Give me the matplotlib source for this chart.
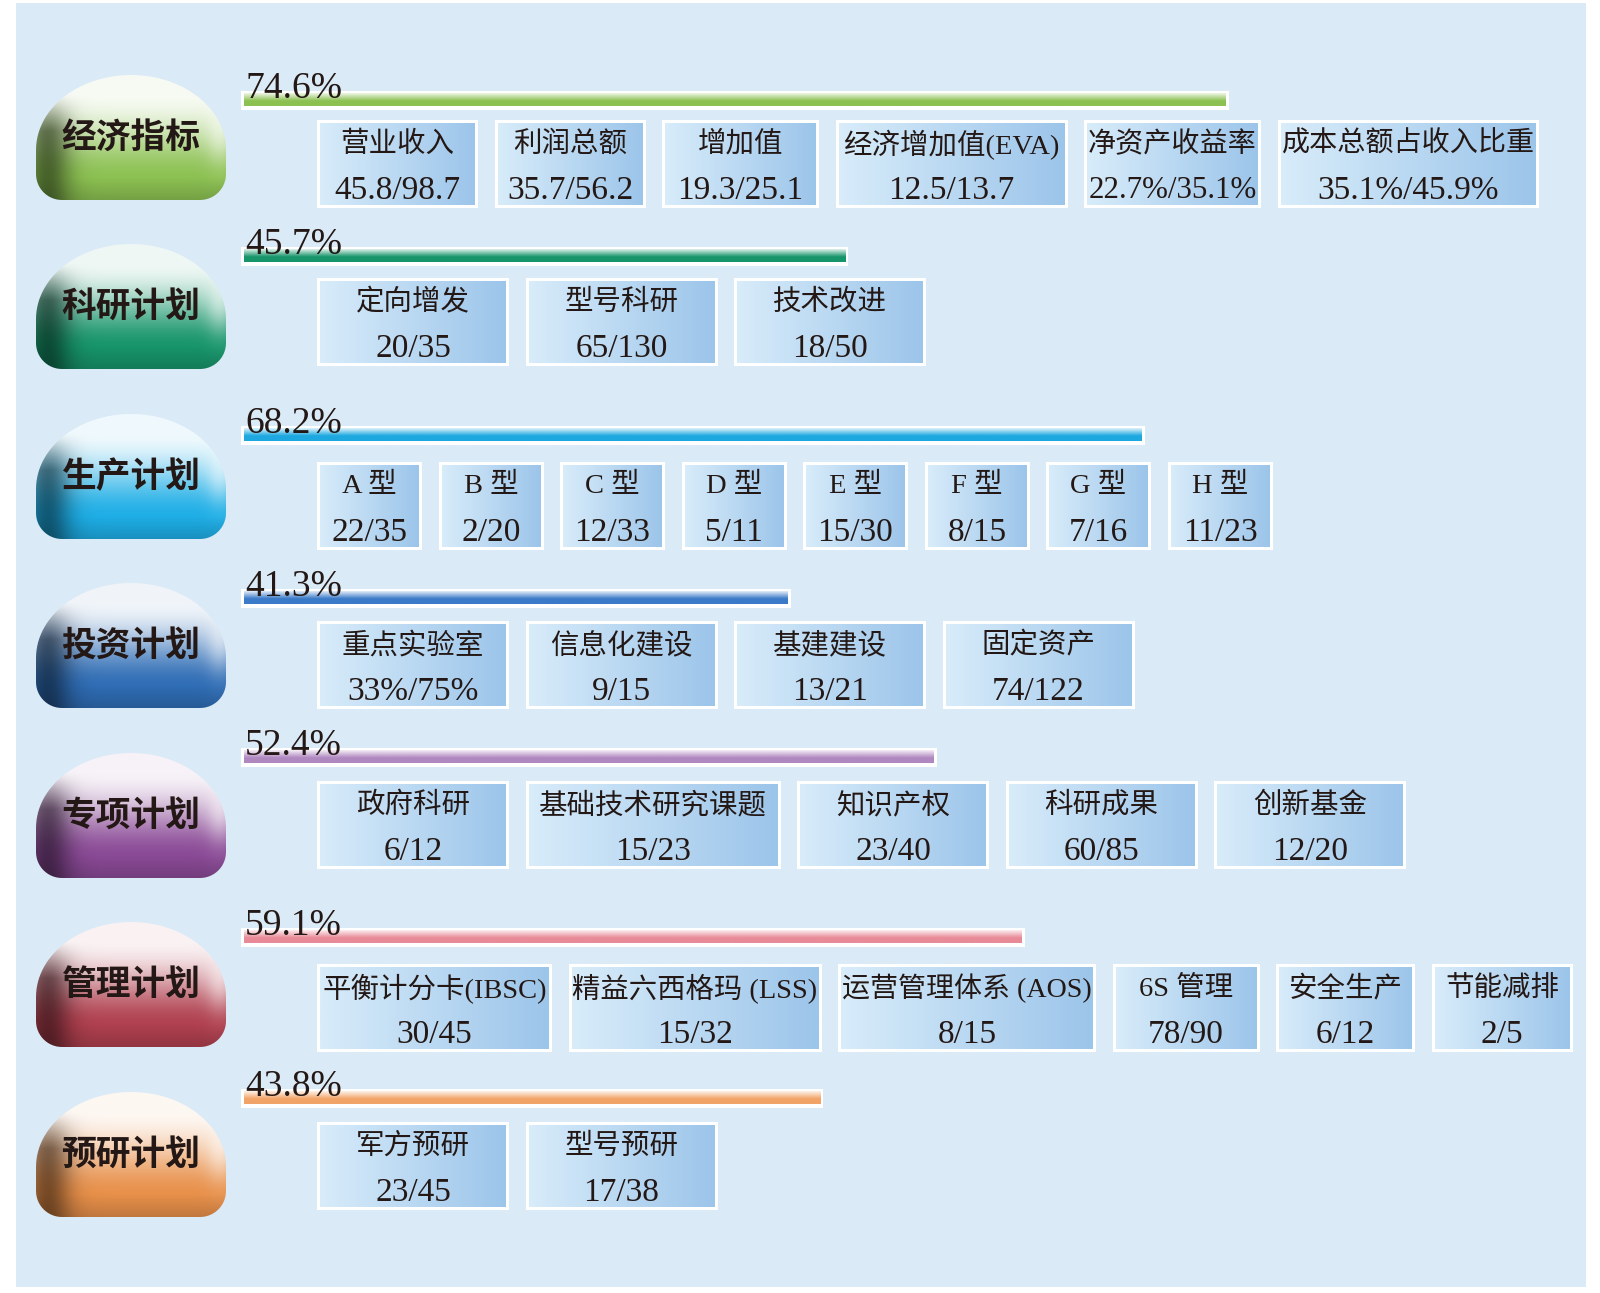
import numpy as np
import matplotlib
matplotlib.use('Agg')
import matplotlib.pyplot as plt
from matplotlib.path import Path
from matplotlib.patches import PathPatch, Rectangle

# ---- data ----
categories = ['经济指标', '科研计划', '生产计划', '投资计划', '专项计划', '管理计划', '预研计划']
completion = [74.6, 45.7, 68.2, 41.3, 52.4, 59.1, 43.8]

item_names = [
    ['营业收入', '利润总额', '增加值', '经济增加值(EVA)', '净资产收益率', '成本总额占收入比重'],
    ['定向增发', '型号科研', '技术改进'],
    ['A 型', 'B 型', 'C 型', 'D 型', 'E 型', 'F 型', 'G 型', 'H 型'],
    ['重点实验室', '信息化建设', '基建建设', '固定资产'],
    ['政府科研', '基础技术研究课题', '知识产权', '科研成果', '创新基金'],
    ['平衡计分卡(IBSC)', '精益六西格玛 (LSS)', '运营管理体系 (AOS)', '6S 管理', '安全生产', '节能减排'],
    ['军方预研', '型号预研'],
]
item_values = [
    ['45.8/98.7', '35.7/56.2', '19.3/25.1', '12.5/13.7', '22.7%/35.1%', '35.1%/45.9%'],
    ['20/35', '65/130', '18/50'],
    ['22/35', '2/20', '12/33', '5/11', '15/30', '8/15', '7/16', '11/23'],
    ['33%/75%', '9/15', '13/21', '74/122'],
    ['6/12', '15/23', '23/40', '60/85', '12/20'],
    ['30/45', '15/32', '8/15', '78/90', '6/12', '2/5'],
    ['23/45', '17/38'],
]

# ---- layout / style (pixels, y down) ----
W, H = 1600, 1293
pill_colors = ['#8cc152', '#17956a', '#1eaee6', '#2f6db5', '#8a4a96', '#b0404f', '#e8904a']
bar_colors = ['#8cc152', '#17956a', '#1ea8e0', '#3a7ac8', '#b088c0', '#e88a98', '#f2a468']
pill_top = [75, 244, 414, 583, 753, 922, 1092]
bar_y = [100, 256, 435, 598, 757, 937, 1098]
box_top = [120, 278, 462, 621, 781, 964, 1122]
box_widths = [
    [161, 151, 157, 232, 177, 261],
    [192, 192, 192],
    [105] * 8,
    [192] * 4,
    [192, 255, 192, 192, 192],
    [235, 253, 258, 147, 139, 141],
    [192, 192],
]
box_h = 88
box_x0 = 317
box_gap = 16.5
bar_x0 = 241
px_per_pct = 13.16
text_color = '#231815'
num_font = ['Liberation Serif', 'Noto Sans CJK SC']
cjk_bold = ['Noto Sans CJK SC', 'DejaVu Sans']


def to_rgb(c):
    return np.array(matplotlib.colors.to_rgb(c))


def mix(a, b, t):
    return a * (1 - t) + b * t


def pill_path(x0, y0, w, h):
    x1, y1 = x0 + w, y0 + h
    cx, a = x0 + w / 2, w / 2
    bd = 0.6 * h
    r = 26
    th = np.linspace(np.pi, 0, 60)
    pts = list(zip(cx + a * np.cos(th), (y0 + bd) - bd * np.sin(th)))
    ph = np.linspace(0, np.pi / 2, 15)
    pts += list(zip(x1 - r + r * np.cos(ph), y1 - r + r * np.sin(ph)))
    ph = np.linspace(np.pi / 2, np.pi, 15)
    pts += list(zip(x0 + r + r * np.cos(ph), y1 - r + r * np.sin(ph)))
    pts.append(pts[0])
    return Path(pts, closed=True)


def pill_image(color, w, h):
    c = to_rgb(color)
    white = np.ones(3)
    t = np.linspace(0, 1, h)[:, None, None]
    u = np.linspace(0, 1, w)[None, :, None]
    s = np.clip((t - 0.15) / 0.7, 0, 1)
    s = s * s * (3 - 2 * s)
    img = mix(mix(c, white, 0.93), c, s)
    # dark bottom rim
    rim = np.clip((t - 0.82) / 0.18, 0, 1) * 0.3
    img = mix(img, c * 0.45, rim)
    # left shadow
    sh = np.exp(-((u - 0.06) / 0.12) ** 2) * np.clip((t - 0.15) / 0.3, 0, 1) * 0.65
    img = mix(img, c * 0.25, sh)
    # right highlight
    hl = np.exp(-((u - 0.97) / 0.07) ** 2) * np.exp(-((t - 0.45) / 0.25) ** 2) * 0.5
    img = mix(img, white, hl)
    return np.clip(img, 0, 1)


fig = plt.figure(figsize=(16, 12.93), dpi=100)
fig.patch.set_facecolor('white')
ax = fig.add_axes([0, 0, 1, 1])
ax.set_xlim(0, W)
ax.set_ylim(H, 0)
ax.axis('off')

ax.add_patch(Rectangle((16, 3), 1570, 1284, facecolor='#dbeaf7', edgecolor='none', zorder=0))

box_grad = np.linspace(0, 1, 200)[None, :, None]
box_img = mix(to_rgb('#d8ecfa'), to_rgb('#9cc5ea'), box_grad)

fig.canvas.draw()
renderer = fig.canvas.get_renderer()

for i, cat in enumerate(categories):
    # pill
    px0, pw, ph = 36, 190, 125
    py0 = pill_top[i]
    path = pill_path(px0, py0, pw, ph)
    patch = PathPatch(path, facecolor='none', edgecolor='none', zorder=2)
    ax.add_patch(patch)
    im = ax.imshow(pill_image(pill_colors[i], 190, 125), extent=(px0, px0 + pw, py0 + ph, py0),
                   origin='upper', aspect='auto', zorder=2, interpolation='bilinear')
    im.set_clip_path(patch)
    ax.text(px0 + pw / 2, py0 + ph * 0.5, cat, fontsize=25, fontweight='bold', family=cjk_bold,
            color=text_color, ha='center', va='center', zorder=3)

    # progress bar
    bw = completion[i] * px_per_pct
    yc = bar_y[i]
    ax.add_patch(Rectangle((bar_x0, yc - 9.5), bw + 6, 19, facecolor='white', edgecolor='none', zorder=2))
    bc = to_rgb(bar_colors[i])
    tt = np.linspace(0, 1, 40)[:, None, None]
    bimg = mix(mix(bc, np.ones(3), 0.85), bc, np.clip(tt / 0.6, 0, 1))
    ax.imshow(bimg, extent=(bar_x0 + 3, bar_x0 + 3 + bw, yc + 6.5, yc - 6.5), origin='upper',
              aspect='auto', zorder=3, interpolation='bilinear')
    ax.text(bar_x0 + 4, yc - 2, f'{completion[i]}%', fontsize=27, family=num_font,
            color=text_color, ha='left', va='baseline', zorder=4)

    # item boxes
    x = box_x0
    y0 = box_top[i]
    for name, val, bwid in zip(item_names[i], item_values[i], box_widths[i]):
        ax.add_patch(Rectangle((x, y0), bwid, box_h, facecolor='white', edgecolor='none', zorder=2))
        ax.imshow(box_img, extent=(x + 3, x + bwid - 3, y0 + box_h - 3, y0 + 3), origin='upper',
                  aspect='auto', zorder=3, interpolation='bilinear')
        for txt, fy, fs in ((name, 0.28, 20.5), (val, 0.8, 24)):
            t = ax.text(x + bwid / 2, y0 + box_h * fy, txt, fontsize=fs, family=num_font,
                        color=text_color, ha='center', va='center', zorder=4)
            tw = t.get_window_extent(renderer).width
            if tw > bwid - 8:
                t.set_fontsize(fs * (bwid - 8) / tw)
        x += bwid + box_gap

ax.set_xlim(0, W)
ax.set_ylim(H, 0)
fig.savefig('out.png', dpi=100, facecolor='white')
